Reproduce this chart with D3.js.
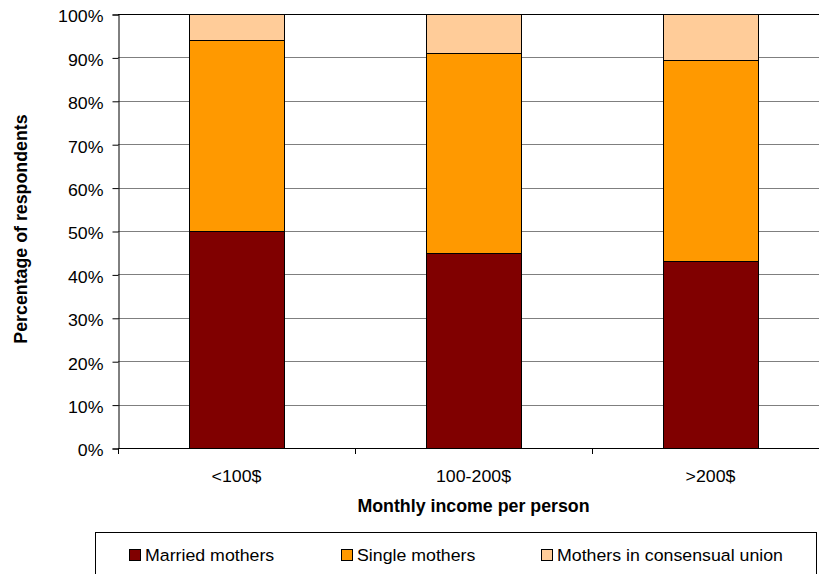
<!DOCTYPE html>
<html>
<head>
<meta charset="utf-8">
<script src="https://cdn.jsdelivr.net/npm/d3@7/dist/d3.min.js"></script>
<style>
  html, body { margin: 0; padding: 0; background: #fff; }
  svg { display: block; font-family: "Liberation Sans", Arial, sans-serif; }
</style>
</head>
<body>
<svg id="chart" width="819" height="574"></svg>
<script>
// Income groups and share of respondents (percent) by marital status
const categories = ["<100$", "100-200$", ">200$"];
const seriesNames = ["Married mothers", "Single mothers", "Mothers in consensual union"];
const married = [50, 45, 43];
const single = [44, 46, 46.5];
const consensual = [6, 9, 10.5];
const yTicks = [0, 10, 20, 30, 40, 50, 60, 70, 80, 90, 100];
const colors = ["#800000", "#FF9900", "#FFCC99"];

const svg = d3.select("#chart");
const plotLeft = 118, plotRight = 829, plotTop = 14, plotBottom = 448;
const textSize = 16.3, textWiden = 1.09;   // regular labels are drawn slightly wide

const x = d3.scaleBand().domain(categories).range([plotLeft, plotRight])
  .paddingInner(0.6).paddingOuter(0.3);
const y = d3.scaleLinear().domain([0, 100]).range([plotBottom, plotTop]);

// Places a regular-weight label at (px, py), widened horizontally
function label(parent, px, py, txt, anchor) {
  return parent.append("text")
    .attr("transform", `translate(${px},${py}) scale(${textWiden},1)`)
    .attr("text-anchor", anchor || "start")
    .attr("font-size", textSize).attr("fill", "#000").text(txt);
}

// Gridlines (top edge drawn darker, as the plot border)
svg.append("g").selectAll("line").data(yTicks.filter(d => d > 0)).join("line")
  .attr("x1", plotLeft).attr("x2", plotRight)
  .attr("y1", d => Math.round(y(d)) + 0.5).attr("y2", d => Math.round(y(d)) + 0.5)
  .attr("stroke", d => d === 100 ? "#000" : "#7f7f7f").attr("stroke-width", 1);

// Stacked bars
const rows = categories.map((c, i) => ({ cat: c, v: [married[i], single[i], consensual[i]] }));
const stack = d3.stack().keys([0, 1, 2]).value((d, k) => d.v[k]);
const layers = stack(rows);

layers.forEach((layer, k) => {
  svg.append("g").selectAll("rect").data(layer).join("rect")
    .attr("x", d => Math.round(x(d.data.cat)) + 0.5)
    .attr("width", Math.round(x.bandwidth()))
    .attr("y", d => Math.round(y(Math.min(d[1], 100))) + 0.5)
    .attr("height", d => Math.round(y(d[0])) - Math.round(y(Math.min(d[1], 100))))
    .attr("fill", colors[k])
    .attr("stroke", "#000").attr("stroke-width", 1);
});

// Y axis
const yAxis = d3.axisLeft(y).tickValues(yTicks).tickSize(6).tickPadding(9)
  .tickFormat(d => d + "%");
const gy = svg.append("g").attr("transform", `translate(${plotLeft + 0.5},0.5)`).call(yAxis);
gy.select(".domain").attr("stroke", "#000");
gy.selectAll(".tick line").attr("stroke", "#000");
gy.selectAll(".tick text")
  .attr("font-size", textSize).attr("fill", "#000")
  .attr("font-family", "Liberation Sans, Arial, sans-serif")
  .attr("dy", "0.45em")
  .attr("x", -15 / textWiden)
  .attr("transform", `scale(${textWiden},1)`);

// X axis baseline with ticks at category boundaries
svg.append("line").attr("x1", plotLeft).attr("x2", plotRight)
  .attr("y1", plotBottom + 0.5).attr("y2", plotBottom + 0.5).attr("stroke", "#000");
svg.append("g").selectAll("line").data(categories.map((c, i) => plotLeft + i * x.step())).join("line")
  .attr("x1", d => Math.round(d) + 0.5).attr("x2", d => Math.round(d) + 0.5)
  .attr("y1", plotBottom).attr("y2", plotBottom + 6).attr("stroke", "#000");

const gx = svg.append("g");
categories.forEach(c => label(gx, x(c) + x.bandwidth() / 2, 481.5, c, "middle"));

// Axis titles
svg.append("text").attr("x", (plotLeft + plotRight) / 2).attr("y", 512)
  .attr("text-anchor", "middle").attr("font-size", 17.8).attr("font-weight", "bold")
  .text("Monthly income per person");
svg.append("text").attr("transform", "translate(27,229) rotate(-90)")
  .attr("text-anchor", "middle").attr("font-size", 17.8).attr("font-weight", "bold")
  .text("Percentage of respondents");

// Legend
const lg = svg.append("g");
lg.append("rect").attr("x", 95.5).attr("y", 532.5).attr("width", 721).attr("height", 60)
  .attr("fill", "#fff").attr("stroke", "#000");
const legendX = [129, 341, 541];
seriesNames.forEach((name, k) => {
  lg.append("rect").attr("x", legendX[k] + 0.5).attr("y", 549.5).attr("width", 11).attr("height", 11)
    .attr("fill", colors[k]).attr("stroke", "#000");
  label(lg, legendX[k] + 16, 561, name, "start");
});
</script>
</body>
</html>
